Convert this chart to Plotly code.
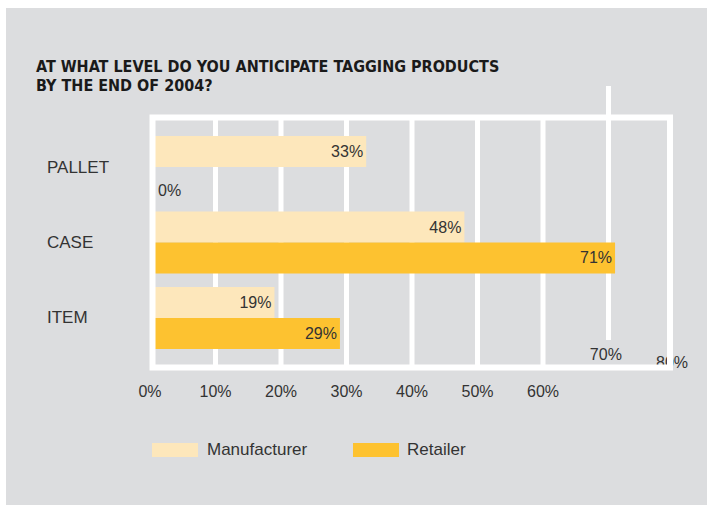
import plotly.graph_objects as go

# ---- data ----
categories = ["PALLET", "CASE", "ITEM"]
manufacturer = [33, 48, 19]
retailer = [0, 71, 29]
series_names = ["Manufacturer", "Retailer"]
x_ticks = [0, 10, 20, 30, 40, 50, 60, 70, 80]
x_tick_labels = [f"{t}%" for t in x_ticks]
title_lines = ["AT WHAT LEVEL DO YOU ANTICIPATE TAGGING PRODUCTS", "BY THE END OF 2004?"]

# ---- style ----
GREY = "#dcdddf"
LIGHT = "#fde7bb"
ORANGE = "#fdc230"
TEXT = "#333333"
FONT = "Liberation Sans, Arial, sans-serif"
TITLE_FONT = "DejaVu Sans Condensed, Liberation Sans Narrow, Arial Narrow, sans-serif"
colors = [LIGHT, ORANGE]

fig = go.Figure()
for name, vals, col in zip(series_names, [manufacturer, retailer], colors):
    fig.add_trace(go.Bar(
        y=categories, x=vals, name=name, orientation="h",
        marker=dict(color=col, line=dict(width=0)),
        text=[f"{v}%" if v else "" for v in vals],
        textposition="inside", insidetextanchor="end",
        textfont=dict(family=FONT, size=16, color=TEXT),
        constraintext="none", showlegend=False, hoverinfo="skip",
    ))

# displaced tick labels (70%, 80%) as text on an overlay axis so the frame sits on top
fig.add_trace(go.Scatter(
    x=[69.6, 79.7], y=[0.055, 0.024], text=x_tick_labels[7:], mode="text",
    textposition="middle center", textfont=dict(family=FONT, size=16, color=TEXT),
    yaxis="y2", cliponaxis=False, showlegend=False, hoverinfo="skip",
))

shapes = []
# grey panel
shapes.append(dict(type="rect", xref="paper", yref="paper",
                   x0=-0.2748, x1=1.07, y0=-0.54, y1=1.4196,
                   fillcolor=GREY, line=dict(width=0), layer="below"))
# gridlines 10..60
for t in x_ticks[1:7]:
    shapes.append(dict(type="line", xref="x", yref="paper", x0=t, x1=t, y0=0, y1=1,
                       line=dict(color="white", width=5), layer="below"))
# odd 70% line
shapes.append(dict(type="line", xref="x", yref="paper", x0=x_ticks[7], x1=x_ticks[7],
                   y0=0.1176, y1=1.1137, line=dict(color="white", width=5), layer="below"))
# white frame
shapes.append(dict(type="rect", xref="paper", yref="paper",
                   x0=0.0048, x1=0.9924, y0=0.0098, y1=0.990,
                   line=dict(color="white", width=6), fillcolor="rgba(0,0,0,0)", layer="above"))
# legend swatches
sw = [(0.0038, 0.0916), (0.3874, 0.4752)]
for (a, b), col in zip(sw, colors):
    shapes.append(dict(type="rect", xref="paper", yref="paper", x0=a, x1=b,
                       y0=-0.341, y1=-0.286, fillcolor=col, line=dict(width=0)))

annotations = []
for line, y in zip(title_lines, [1.235, 1.160]):
    annotations.append(dict(xref="paper", yref="paper", x=-0.2214, y=y,
                            xanchor="left", yanchor="top", align="left", showarrow=False,
                            text="<b>" + line + "</b>",
                            font=dict(family=TITLE_FONT, size=16, color="#1a1a1a")))
for c in categories:
    annotations.append(dict(xref="paper", yref="y", x=-0.2005, y=c, xanchor="left",
                            yanchor="middle", showarrow=False, text=c,
                            font=dict(family=FONT, size=17, color=TEXT)))
# zero-value label
for c, v in zip(categories, retailer):
    if v == 0:
        annotations.append(dict(xref="x", yref="y", x=v, y=c, xanchor="left",
                                yanchor="middle", xshift=6, yshift=-23, showarrow=False,
                                text=f"{v}%", font=dict(family=FONT, size=16, color=TEXT)))
for name, x in zip(series_names, [0.105, 0.4866]):
    annotations.append(dict(xref="paper", yref="paper", x=x, y=-0.3137, xanchor="left",
                            yanchor="middle", showarrow=False, text=name,
                            font=dict(family=FONT, size=17, color=TEXT)))

fig.update_layout(
    width=707, height=505,
    margin=dict(l=150, r=33, t=115, b=135),
    paper_bgcolor="white", plot_bgcolor="rgba(0,0,0,0)",
    barmode="group", bargap=0.18, bargroupgap=0,
    xaxis=dict(range=[0, 80], tickvals=x_ticks[:7], ticktext=x_tick_labels[:7],
               showgrid=False, zeroline=False, showline=False, ticks="",
               ticklabelstandoff=10,
               tickfont=dict(family=FONT, size=16, color=TEXT)),
    yaxis=dict(type="category", categoryorder="array", categoryarray=categories,
               range=[2.69, -0.69], showticklabels=False, showgrid=False,
               zeroline=False, showline=False, ticks=""),
    yaxis2=dict(overlaying="y", range=[0, 1], visible=False),
    shapes=shapes, annotations=annotations,
)

fig.write_html("out.html")
